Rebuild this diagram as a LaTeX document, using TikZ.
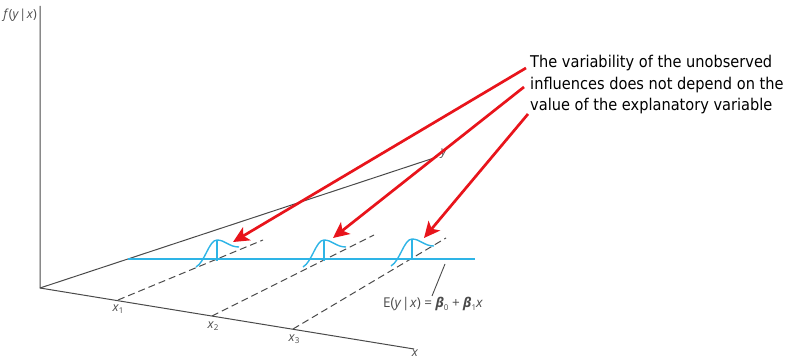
\documentclass[tikz,border=0pt]{standalone}
\usepackage{fontspec}
\setsansfont{Open Sans}
\newfontfamily\callfont[FakeStretch=0.9]{DejaVu Sans}
\usetikzlibrary{arrows.meta,calc}
\definecolor{axisgray}{HTML}{4A4A4A}
\definecolor{bellcyan}{HTML}{2EB4E6}
\definecolor{arrowred}{HTML}{E8141B}
\tikzset{
  axisline/.style={draw=axisgray, line width=1pt},
  dashline/.style={draw=axisgray, line width=1pt, dash pattern=on 7pt off 4pt},
  bellline/.style={draw=bellcyan, line width=1.4pt},
  callarrow/.style={draw=arrowred, line width=2.7pt, -{Stealth[length=16pt,width=15pt,inset=4pt]}},
  lbl/.style={font=\sffamily\fontsize{12.5}{13}\selectfont, text=axisgray, inner sep=0pt},
}
\newcommand{\bellat}[1]{%
  \draw[bellline] ($#1+(-21,27)$) .. controls ($#1+(-12,22)$) and ($#1+(-8,0)$) .. #1
     .. controls ($#1+(8,0)$) and ($#1+(12,7)$) .. ($#1+(22,7)$);
  \draw[bellline, line width=1.2pt] #1 -- ($#1+(0,21)$);
}
\newcommand{\subsc}[1]{\raisebox{-0.35ex}{\fontsize{8}{9}\selectfont #1}}
\begin{document}
\begin{tikzpicture}[x=1pt,y=-1pt]
\useasboundingbox (0,0) rectangle (796,361);
% axes
\coordinate (O) at (40,288);
\coordinate (ftop) at (40,6);
\coordinate (xend) at (414,349);
\coordinate (yend) at (437,157);
\draw[axisline] (ftop) -- (O) -- (xend);
\draw[axisline] (O) -- (yend);
\node[lbl, anchor=east] (flbl) at (37,15) {\textit{f}(\textit{y}\kern0.5pt|\kern0.5pt\textit{x})};
\node[lbl] (xlbl) at (415,353) {\textit{x}};
\node[lbl] (ylbl) at (444,154) {\textit{y}};
% x positions
\coordinate (x1) at (118,300);
\coordinate (x2) at (212,316);
\coordinate (x3) at (293,329);
\coordinate (d1) at (263,240);
\coordinate (d2) at (374,235);
\coordinate (d3) at (446,238);
\draw[dashline] (x1) -- (d1);
\draw[dashline] (x2) -- (d2);
\draw[dashline] (x3) -- (d3);
\node[lbl] (x1lbl) at (118,309) {\textit{x}\subsc{1}};
\node[lbl] (x2lbl) at (213,326) {\textit{x}\subsc{2}};
\node[lbl] (x3lbl) at (294,339) {\textit{x}\subsc{3}};
% regression line
\coordinate (rl) at (128,259);
\coordinate (rr) at (475,259);
\draw[bellline] (rl) -- (rr);
% bells
\coordinate (p1) at (217,240);
\coordinate (p2) at (324,240);
\coordinate (p3) at (412,239);
\bellat{(p1)}
\bellat{(p2)}
\bellat{(p3)}
% E label
\node[lbl, anchor=west, font=\sffamily\fontsize{13.5}{14}\selectfont] (elbl) at (383,304) {E(\textit{y}\kern0.5pt|\kern0.5pt\textit{x}) = \textbf{\textit{β}}\subsc{0} + \textbf{\textit{β}}\subsc{1}\textit{x}};
\coordinate (ep1) at (445,264);
\coordinate (ep2) at (432,296);
\draw[axisline, line width=0.9pt] (ep1) -- (ep2);
% callout text
\node[anchor=north west, inner sep=0pt, align=left, font=\callfont\fontsize{16.2}{21.5}\selectfont] (txt) at (530,55)
  {The variability of the unobserved\\influences does not depend on the\\value of the explanatory variable};
\coordinate (a1) at (526,68);
\coordinate (a2) at (524,87);
\coordinate (a3) at (528,114);
\coordinate (t1) at (233,242);
\coordinate (t2) at (333,238);
\coordinate (t3) at (424,238);
\draw[callarrow] (a1) -- (t1);
\draw[callarrow] (a2) -- (t2);
\draw[callarrow] (a3) -- (t3);
\end{tikzpicture}
\end{document}
